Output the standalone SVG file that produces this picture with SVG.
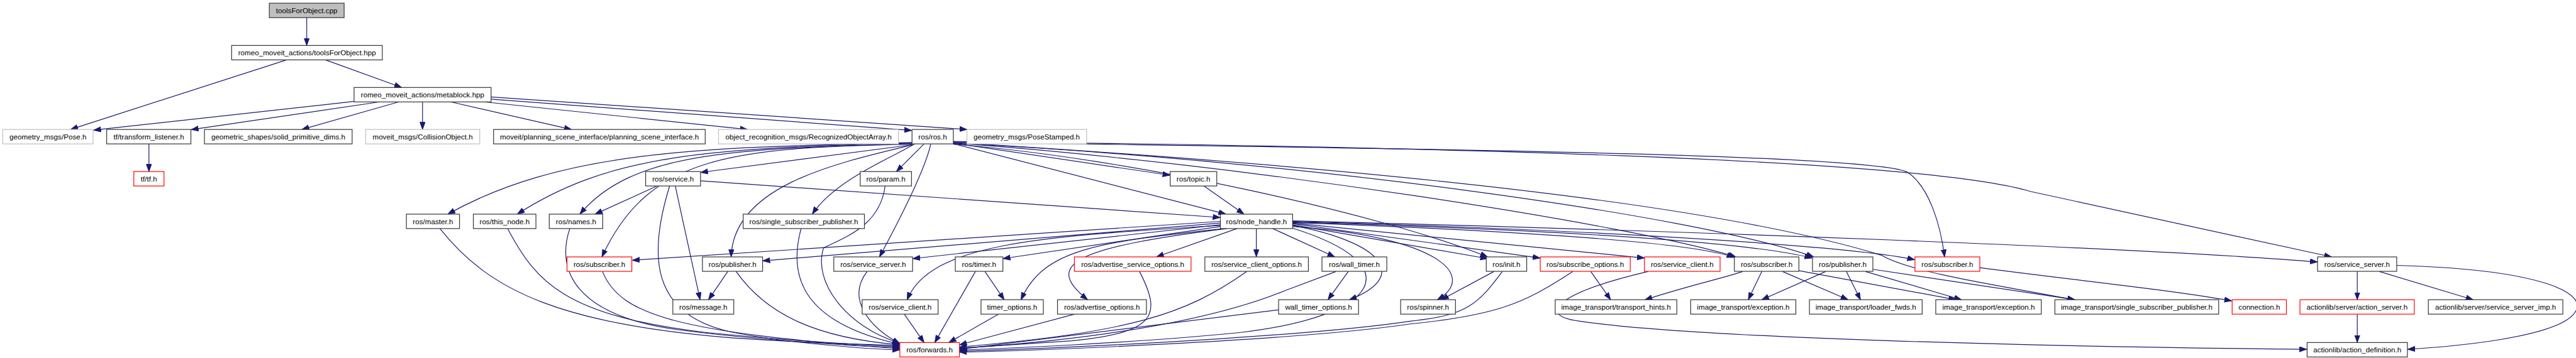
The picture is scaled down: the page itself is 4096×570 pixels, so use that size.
<svg xmlns="http://www.w3.org/2000/svg" width="4096" height="570" viewBox="0 0 4096 570">
<style>
.n rect{fill:#fff;stroke:#333;stroke-width:1.33}
.g rect{stroke:#bfbfbf}
.r rect{stroke:#f00}
.root rect{fill:#bfbfbf}
text{font-family:"Liberation Sans",Arial,Helvetica,sans-serif;font-size:13px;text-anchor:middle;fill:#000}
#edges path{fill:none;stroke:#191970;stroke-width:1.33;marker-end:url(#a)}
</style>
<defs>
<marker id="a" markerUnits="userSpaceOnUse" markerWidth="15" markerHeight="11" refX="13" refY="5" orient="auto">
<path d="M0,0.3 L13,5 L0,9.7 z" fill="#191970" stroke="#191970" stroke-width="1"/>
</marker>
</defs>
<rect width="4096" height="570" fill="#fff"/>
<g transform="scale(0.897)">
<g id="edges">
<path d="M543.7,31.3 L543.7,80.7"/>
<path d="M508,106.3 L125,229.8"/>
<path d="M577,106.3 L712,155.3"/>
<path d="M628,180 L166,231"/>
<path d="M673,180.9 L339,230"/>
<path d="M707,180.9 L535,229.8"/>
<path d="M749,180.9 L749,229.8"/>
<path d="M799,180.9 L1013,229.8"/>
<path d="M858,180.9 L1325,229.8"/>
<path d="M870.5,176 L1616,231.5"/>
<path d="M870.5,172 L1714,229.8"/>
<path d="M264,255.4 L264,304.5"/>
<path d="M1617,253 C1250,262 1000,265 794,380"/>
<path d="M1617,254 C1250,263 1080,275 917,380"/>
<path d="M1617,255 C1300,264 1120,270 1028,380"/>
<path d="M1617,256 C1300,262 1150,275 1067,456"/>
<path d="M1617,257 L1242,306"/>
<path d="M1618,257 C1480,290 1300,330 1296,456"/>
<path d="M1622,255.4 C1580,280 1480,320 1440,380"/>
<path d="M1638,255.4 L1589,304.5"/>
<path d="M1650,255.4 C1640,300 1600,380 1559,456"/>
<path d="M1690,254 L2074,311"/>
<path d="M1690,255 L2173,380"/>
<path d="M1690,256 C2000,280 2450,380 2637,456"/>
<path d="M1690,254 C2200,290 2900,400 3077,456"/>
<path d="M1690,254 C2300,285 3000,380 3215,456"/>
<path d="M1690,253 C2300,290 3000,350 3335,453 C3380,480 3500,500 3678,532"/>
<path d="M1690,252 C2300,262 3300,270 3380,305 C3420,330 3440,400 3447,456"/>
<path d="M1690,251 C2500,260 3400,280 3600,340 L4133,456"/>
<path d="M2134,330 L2205,380"/>
<path d="M1165,330 L1055,380"/>
<path d="M1197,330 L1241,532"/>
<path d="M1242,321 L2163,386"/>
<path d="M2163,393 L1121,462"/>
<path d="M2163,396 L1352,463"/>
<path d="M2163,399 L1618,459"/>
<path d="M2163,402 L1778,459"/>
<path d="M2163,400 C1850,420 1650,430 1608,532"/>
<path d="M2170,405.7 C1950,430 1850,440 1810,532"/>
<path d="M2175,405.7 C1900,440 1850,470 1928,532"/>
<path d="M2193,405.7 L2050,456"/>
<path d="M2227,405.7 L2227,456"/>
<path d="M2256,405.7 L2366,456"/>
<path d="M2291,400 C2450,430 2500,490 2392,532"/>
<path d="M2291,402 C2550,420 2620,490 2548,532"/>
<path d="M2291,399 L2637,459"/>
<path d="M2291,397 L2730,458"/>
<path d="M2291,396 L2915,458"/>
<path d="M2291,395 C2700,410 3000,430 3074,457"/>
<path d="M2291,394 C2800,410 3100,430 3212,458"/>
<path d="M2291,393 C2900,410 3300,440 3394,461"/>
<path d="M2291,392 C3000,410 3800,440 4108,465"/>
<path d="M2291,405 C2500,470 2450,560 2200,590 C2000,610 1750,620 1701,621"/>
<path d="M1905,557.6 L1701,612"/>
<path d="M2020,482 C2060,560 2050,590 1900,605 L1701,618"/>
<path d="M2210,482 C2100,560 2000,590 1701,616"/>
<path d="M2368,482 L2280,515 C2100,590 1800,612 1701,618"/>
<path d="M2266,550 L1701,620"/>
<path d="M2663,482 C2620,540 2600,560 2500,570 C2300,600 1800,622 1701,623"/>
<path d="M2788,482 C2700,540 2650,560 2500,575 C2300,605 1800,624 1701,625"/>
<path d="M1603,557.6 L1638,608"/>
<path d="M1729,482 L1657,608"/>
<path d="M1770,557.6 L1682,608"/>
<path d="M780,406 C870,520 1000,575 1300,600 C1450,610 1550,612 1595,613"/>
<path d="M900,406 C950,500 1000,560 1250,590 C1400,605 1550,614 1595,615"/>
<path d="M1010,406 C985,480 1020,560 1200,585 C1350,605 1550,616 1595,617"/>
<path d="M1068,482 C1100,560 1200,590 1595,619"/>
<path d="M1187,330 C1150,450 1150,560 1300,590 C1400,610 1550,620 1595,621"/>
<path d="M1305,482 C1360,560 1450,600 1595,612"/>
<path d="M1420,406 C1400,480 1410,570 1595,611"/>
<path d="M1569,330 C1560,400 1500,420 1460,440 C1440,500 1500,580 1595,609"/>
<path d="M1537,482 C1500,530 1540,580 1595,610"/>
<path d="M1290,482 L1256,532"/>
<path d="M1746,482 L1780,532"/>
<path d="M2390,482 L2354,532"/>
<path d="M2648,482 L2555,532"/>
<path d="M2820,482 L2855,532"/>
<path d="M2921,482 C2760,520 2720,560 2800,570 C3000,600 3600,615 4089,620"/>
<path d="M3089,482 C3050,495 3000,505 2916,532"/>
<path d="M3123,482 L3099,532"/>
<path d="M3160,482 L3276,532"/>
<path d="M3187,480 L3467,532"/>
<path d="M3236,482 L3123,532"/>
<path d="M3273,482 L3298,532"/>
<path d="M3307,482 L3477,532"/>
<path d="M3320,478 L3678,532"/>
<path d="M3509,475 C3700,500 3850,515 3956,534"/>
<path d="M4178.6,482 L4178.6,532"/>
<path d="M4218,482 L4384,532"/>
<path d="M4248.5,471 C4500,478 4600,520 4560,560 C4520,600 4350,615 4268,620"/>
<path d="M4178.6,557.6 L4178.6,608"/>
</g>
<g id="n0" class="n root"><rect x="477.4" y="5.7" width="132.6" height="25.6"/><text x="543.7" y="23.1">toolsForObject.cpp</text></g>
<g id="n1" class="n"><rect x="410.6" y="80.7" width="267.1" height="25.6"/><text x="544.2" y="98.1">romeo_moveit_actions/toolsForObject.hpp</text></g>
<g id="n2" class="n"><rect x="627.6" y="155.3" width="242.9" height="25.6"/><text x="749.1" y="172.7">romeo_moveit_actions/metablock.hpp</text></g>
<g id="n3" class="n g"><rect x="4.9" y="229.8" width="160.1" height="25.6"/><text x="85" y="247.2">geometry_msgs/Pose.h</text></g>
<g id="n4" class="n"><rect x="189.1" y="229.8" width="149.3" height="25.6"/><text x="263.8" y="247.2">tf/transform_listener.h</text></g>
<g id="n5" class="n"><rect x="362.4" y="229.8" width="261.8" height="25.6"/><text x="493.3" y="247.2">geometric_shapes/solid_primitive_dims.h</text></g>
<g id="n6" class="n g"><rect x="648.2" y="229.8" width="202.2" height="25.6"/><text x="749.3" y="247.2">moveit_msgs/CollisionObject.h</text></g>
<g id="n7" class="n"><rect x="874.9" y="229.8" width="375.2" height="25.6"/><text x="1062.5" y="247.2">moveit/planning_scene_interface/planning_scene_interface.h</text></g>
<g id="n8" class="n g"><rect x="1273.7" y="229.8" width="319" height="25.6"/><text x="1433.2" y="247.2">object_recognition_msgs/RecognizedObjectArray.h</text></g>
<g id="n9" class="n"><rect x="1616.7" y="229.8" width="73.2" height="25.6"/><text x="1653.3" y="247.2">ros/ros.h</text></g>
<g id="n10" class="n g"><rect x="1714" y="229.8" width="212.1" height="25.6"/><text x="1820" y="247.2">geometry_msgs/PoseStamped.h</text></g>
<g id="n11" class="n r"><rect x="237.2" y="304.5" width="53.5" height="25.6"/><text x="264" y="321.9">tf/tf.h</text></g>
<g id="n12" class="n"><rect x="1144.5" y="304.5" width="97.3" height="25.6"/><text x="1193.1" y="321.9">ros/service.h</text></g>
<g id="n13" class="n"><rect x="1524.9" y="304.5" width="90.9" height="25.6"/><text x="1570.3" y="321.9">ros/param.h</text></g>
<g id="n14" class="n"><rect x="2074.4" y="304.5" width="82.5" height="25.6"/><text x="2115.6" y="321.9">ros/topic.h</text></g>
<g id="n15" class="n"><rect x="720.4" y="380.1" width="94.1" height="25.6"/><text x="767.4" y="397.5">ros/master.h</text></g>
<g id="n16" class="n"><rect x="839.1" y="380.1" width="110.9" height="25.6"/><text x="894.5" y="397.5">ros/this_node.h</text></g>
<g id="n17" class="n"><rect x="973.6" y="380.1" width="94.8" height="25.6"/><text x="1021" y="397.5">ros/names.h</text></g>
<g id="n18" class="n"><rect x="1317.4" y="380.1" width="214.9" height="25.6"/><text x="1424.8" y="397.5">ros/single_subscriber_publisher.h</text></g>
<g id="n19" class="n"><rect x="2163.3" y="380.1" width="128" height="25.6"/><text x="2227.3" y="397.5">ros/node_handle.h</text></g>
<g id="n20" class="n r"><rect x="1005.1" y="456" width="114.9" height="25.6"/><text x="1062.5" y="473.4">ros/subscriber.h</text></g>
<g id="n21" class="n"><rect x="1245.2" y="456" width="106.6" height="25.6"/><text x="1298.5" y="473.4">ros/publisher.h</text></g>
<g id="n22" class="n"><rect x="1478" y="456" width="139.7" height="25.6"/><text x="1547.8" y="473.4">ros/service_server.h</text></g>
<g id="n23" class="n"><rect x="1693.4" y="456" width="84.4" height="25.6"/><text x="1735.6" y="473.4">ros/timer.h</text></g>
<g id="n24" class="n r"><rect x="1904.5" y="456" width="206.8" height="25.6"/><text x="2007.9" y="473.4">ros/advertise_service_options.h</text></g>
<g id="n25" class="n"><rect x="2135.8" y="456" width="183.5" height="25.6"/><text x="2227.5" y="473.4">ros/service_client_options.h</text></g>
<g id="n26" class="n"><rect x="2343.4" y="456" width="114.9" height="25.6"/><text x="2400.8" y="473.4">ros/wall_timer.h</text></g>
<g id="n27" class="n"><rect x="2634.6" y="456" width="71.7" height="25.6"/><text x="2670.4" y="473.4">ros/init.h</text></g>
<g id="n28" class="n r"><rect x="2730.3" y="456" width="159.6" height="25.6"/><text x="2810.1" y="473.4">ros/subscribe_options.h</text></g>
<g id="n29" class="n r"><rect x="2915" y="456" width="134.1" height="25.6"/><text x="2982" y="473.4">ros/service_client.h</text></g>
<g id="n30" class="n"><rect x="3074.4" y="456" width="114.4" height="25.6"/><text x="3131.6" y="473.4">ros/subscriber.h</text></g>
<g id="n31" class="n"><rect x="3212.9" y="456" width="107" height="25.6"/><text x="3266.4" y="473.4">ros/publisher.h</text></g>
<g id="n32" class="n r"><rect x="3394.6" y="456" width="114.9" height="25.6"/><text x="3452" y="473.4">ros/subscriber.h</text></g>
<g id="n33" class="n"><rect x="4108.2" y="456" width="140.3" height="25.6"/><text x="4178.3" y="473.4">ros/service_server.h</text></g>
<g id="n34" class="n"><rect x="1192.7" y="532" width="108" height="25.6"/><text x="1246.7" y="549.4">ros/message.h</text></g>
<g id="n35" class="n"><rect x="1528.3" y="532" width="134.6" height="25.6"/><text x="1595.6" y="549.4">ros/service_client.h</text></g>
<g id="n36" class="n"><rect x="1739" y="532" width="110.5" height="25.6"/><text x="1794.2" y="549.4">timer_options.h</text></g>
<g id="n37" class="n"><rect x="1874.6" y="532" width="157.6" height="25.6"/><text x="1953.4" y="549.4">ros/advertise_options.h</text></g>
<g id="n38" class="n"><rect x="2266.5" y="532" width="141.7" height="25.6"/><text x="2337.3" y="549.4">wall_timer_options.h</text></g>
<g id="n39" class="n"><rect x="2482.8" y="532" width="97.2" height="25.6"/><text x="2531.4" y="549.4">ros/spinner.h</text></g>
<g id="n40" class="n"><rect x="2756.8" y="532" width="215.6" height="25.6"/><text x="2864.6" y="549.4">image_transport/transport_hints.h</text></g>
<g id="n41" class="n"><rect x="2997" y="532" width="186.4" height="25.6"/><text x="3090.2" y="549.4">image_transport/exception.h</text></g>
<g id="n42" class="n"><rect x="3207.5" y="532" width="199.8" height="25.6"/><text x="3307.4" y="549.4">image_transport/loader_fwds.h</text></g>
<g id="n43" class="n"><rect x="3431.4" y="532" width="187.1" height="25.6"/><text x="3525" y="549.4">image_transport/exception.h</text></g>
<g id="n44" class="n"><rect x="3642.6" y="532" width="290.3" height="25.6"/><text x="3787.7" y="549.4">image_transport/single_subscriber_publisher.h</text></g>
<g id="n45" class="n r"><rect x="3956.8" y="532" width="96.2" height="25.6"/><text x="4004.9" y="549.4">connection.h</text></g>
<g id="n46" class="n r"><rect x="4077" y="532" width="202.7" height="25.6"/><text x="4178.3" y="549.4">actionlib/server/action_server.h</text></g>
<g id="n47" class="n"><rect x="4304.6" y="532" width="238.4" height="25.6"/><text x="4423.8" y="549.4">actionlib/server/service_server_imp.h</text></g>
<g id="n48" class="n r"><rect x="1595.1" y="608" width="105.6" height="25.6"/><text x="1647.9" y="625.4">ros/forwards.h</text></g>
<g id="n49" class="n"><rect x="4089.7" y="608" width="177.8" height="25.6"/><text x="4178.6" y="625.4">actionlib/action_definition.h</text></g>
</g>
</svg>
